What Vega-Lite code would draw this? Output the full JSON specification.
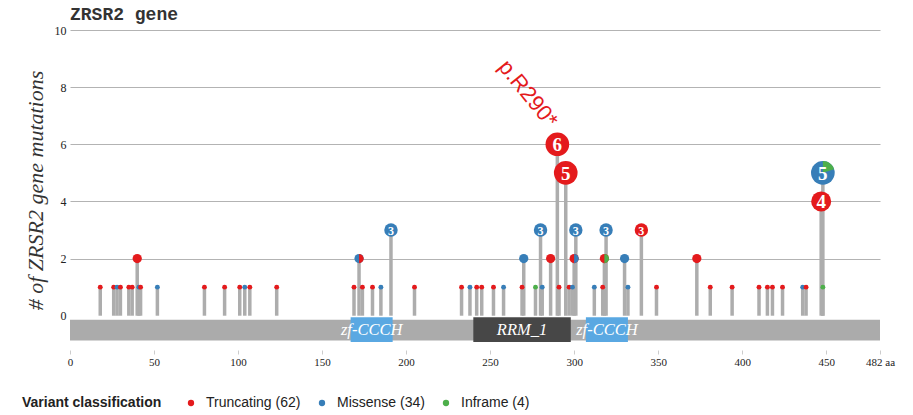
{
  "$schema": "https://vega.github.io/schema/vega-lite/v6.json",
  "width": 810,
  "height": 320,
  "autosize": "none",
  "padding": {"left": 70, "top": 30, "right": 33, "bottom": 65},
  "background": "white",
  "title": {"text": "ZRSR2 gene", "anchor": "start", "frame": "group", "font": "Liberation Mono", "fontSize": 18, "fontWeight": "bold", "color": "#333333", "offset": 0, "baseline": "bottom", "dy": 18},
  "config": {"view": {"stroke": null}},
  "datasets": {
    "mutations": [
      {"pos": 18, "count": 1, "type": "Truncating"},
      {"pos": 26, "count": 1, "type": "Truncating"},
      {"pos": 28, "count": 1, "type": "Missense"},
      {"pos": 30, "count": 1, "type": "Truncating"},
      {"pos": 35, "count": 1, "type": "Truncating"},
      {"pos": 37, "count": 1, "type": "Truncating"},
      {"pos": 40, "count": 2, "type": "Truncating"},
      {"pos": 41, "count": 1, "type": "Missense"},
      {"pos": 42, "count": 1, "type": "Truncating"},
      {"pos": 52, "count": 1, "type": "Missense"},
      {"pos": 80, "count": 1, "type": "Truncating"},
      {"pos": 92, "count": 1, "type": "Truncating"},
      {"pos": 101, "count": 1, "type": "Truncating"},
      {"pos": 104, "count": 1, "type": "Missense"},
      {"pos": 107, "count": 1, "type": "Truncating"},
      {"pos": 123, "count": 1, "type": "Truncating"},
      {"pos": 169, "count": 1, "type": "Truncating"},
      {"pos": 172, "count": 2, "type": "Missense", "second": "Truncating"},
      {"pos": 174, "count": 1, "type": "Truncating"},
      {"pos": 180, "count": 1, "type": "Truncating"},
      {"pos": 185, "count": 1, "type": "Missense"},
      {"pos": 191, "count": 3, "type": "Missense"},
      {"pos": 205, "count": 1, "type": "Truncating"},
      {"pos": 233, "count": 1, "type": "Truncating"},
      {"pos": 238, "count": 1, "type": "Missense"},
      {"pos": 242, "count": 1, "type": "Truncating"},
      {"pos": 245, "count": 1, "type": "Truncating"},
      {"pos": 252, "count": 1, "type": "Truncating"},
      {"pos": 258, "count": 1, "type": "Missense"},
      {"pos": 269, "count": 1, "type": "Truncating"},
      {"pos": 270, "count": 2, "type": "Missense"},
      {"pos": 277, "count": 1, "type": "Inframe"},
      {"pos": 280, "count": 3, "type": "Missense"},
      {"pos": 281, "count": 1, "type": "Missense"},
      {"pos": 286, "count": 2, "type": "Truncating"},
      {"pos": 290, "count": 6, "type": "Truncating", "label": "p.R290*"},
      {"pos": 291, "count": 1, "type": "Truncating"},
      {"pos": 295, "count": 5, "type": "Truncating"},
      {"pos": 297, "count": 1, "type": "Truncating"},
      {"pos": 299, "count": 1, "type": "Missense"},
      {"pos": 300, "count": 2, "type": "Truncating", "second": "Missense"},
      {"pos": 301, "count": 3, "type": "Missense"},
      {"pos": 312, "count": 1, "type": "Missense"},
      {"pos": 317, "count": 1, "type": "Truncating"},
      {"pos": 318, "count": 2, "type": "Truncating", "second": "Inframe"},
      {"pos": 319, "count": 3, "type": "Missense"},
      {"pos": 330, "count": 2, "type": "Missense"},
      {"pos": 332, "count": 1, "type": "Missense"},
      {"pos": 340, "count": 3, "type": "Truncating"},
      {"pos": 349, "count": 1, "type": "Truncating"},
      {"pos": 373, "count": 2, "type": "Truncating"},
      {"pos": 381, "count": 1, "type": "Truncating"},
      {"pos": 394, "count": 1, "type": "Truncating"},
      {"pos": 410, "count": 1, "type": "Truncating"},
      {"pos": 415, "count": 1, "type": "Truncating"},
      {"pos": 418, "count": 1, "type": "Truncating"},
      {"pos": 424, "count": 1, "type": "Truncating"},
      {"pos": 436, "count": 1, "type": "Missense"},
      {"pos": 438, "count": 1, "type": "Truncating"},
      {"pos": 447, "count": 4, "type": "Truncating"},
      {"pos": 448, "count": 5, "type": "Missense", "second": "Inframe"},
      {"pos": 448, "count": 1, "type": "Inframe"}
    ],
    "domains": [
      {"name": "backbone", "start": 0, "end": 482, "kind": "backbone"},
      {"name": "zf-CCCH", "start": 167, "end": 192, "kind": "pfam"},
      {"name": "RRM_1", "start": 240, "end": 298, "kind": "pfam"},
      {"name": "zf-CCCH", "start": 307, "end": 332, "kind": "pfam"}
    ]
  },
  "layer": [
    {
      "data": {"name": "mutations"},
      "transform": [{"calculate": "0", "as": "zero"}],
      "mark": {"type": "rule", "color": "#adadad", "strokeWidth": 3.5},
      "encoding": {
        "x": {"field": "pos", "type": "quantitative", "scale": {"domain": [0, 482], "nice": false},
          "axis": {"title": null, "values": [0, 50, 100, 150, 200, 250, 300, 350, 400, 450, 482], "labelExpr": "datum.value == 482 ? '482 aa' : datum.label", "domain": false, "grid": false, "tickColor": "#cccccc", "tickSize": 4, "labelFont": "Liberation Serif", "labelFontSize": 11, "labelColor": "#222222", "labelPadding": 2, "labelFlush": false, "labelOverlap": false}},
        "y": {"field": "zero", "type": "quantitative", "scale": {"domain": [-1.2, 10], "nice": false},
          "axis": {"title": "# of ZRSR2 gene mutations", "values": [0, 2, 4, 6, 8, 10], "grid": true, "gridColor": {"condition": {"test": "datum.value == 0", "value": "transparent"}, "value": "#b3b3b3"}, "domain": false, "ticks": false, "labelPadding": 4, "labelFont": "Liberation Serif", "labelFontSize": 12, "labelColor": "#222222", "titleFont": "Liberation Serif", "titleFontStyle": "italic", "titleFontWeight": "normal", "titleFontSize": 22, "titleColor": "#333333", "titlePadding": 7}},
        "y2": {"field": "count"}
      }
    },
    {
      "data": {"name": "domains"},
      "transform": [{"filter": "datum.kind == 'backbone'"}],
      "mark": {"type": "rect", "color": "#ababab"},
      "encoding": {
        "x": {"field": "start", "type": "quantitative"},
        "x2": {"field": "end"},
        "y": {"datum": -0.14, "type": "quantitative"},
        "y2": {"datum": -0.87}
      }
    },
    {
      "data": {"name": "domains"},
      "transform": [{"filter": "datum.kind == 'pfam'"}],
      "mark": {"type": "rect"},
      "encoding": {
        "x": {"field": "start", "type": "quantitative"},
        "x2": {"field": "end"},
        "y": {"datum": -0.05, "type": "quantitative"},
        "y2": {"datum": -0.92},
        "color": {"condition": {"test": "datum.name == 'RRM_1'", "value": "#474747"}, "value": "#5aa8e2"}
      }
    },
    {
      "data": {"name": "domains"},
      "transform": [{"filter": "datum.kind == 'pfam'"}, {"calculate": "(datum.start + datum.end) / 2", "as": "mid"}],
      "mark": {"type": "text", "color": "white", "font": "Liberation Serif", "fontStyle": "italic", "fontSize": 16.5, "baseline": "middle", "align": "center"},
      "encoding": {
        "x": {"field": "mid", "type": "quantitative"},
        "y": {"datum": -0.5, "type": "quantitative"},
        "text": {"field": "name"}
      }
    },
    {
      "data": {"name": "mutations"},
      "mark": {"type": "point", "filled": true, "opacity": 1, "shape": "circle", "strokeWidth": 0},
      "encoding": {
        "x": {"field": "pos", "type": "quantitative"},
        "y": {"field": "count", "type": "quantitative"},
        "size": {"field": "count", "type": "quantitative", "scale": {"type": "linear", "domain": [1, 2, 3, 4, 5], "range": [24, 85, 180, 400, 560], "clamp": true}, "legend": null},
        "color": {"field": "type", "type": "nominal", "scale": {"domain": ["Truncating", "Missense", "Inframe"], "range": ["#e41a1c", "#377eb8", "#4daf4a"]},
          "legend": {"title": "Variant classification", "orient": "none", "legendX": -48, "legendY": 366, "direction": "horizontal", "titleOrient": "left", "titlePadding": 22, "titleFont": "Liberation Sans", "titleFontSize": 14, "titleFontWeight": "bold", "titleColor": "#222222", "labelFont": "Liberation Sans", "labelFontSize": 14, "labelColor": "#222222", "symbolType": "circle", "symbolSize": 40, "symbolStrokeWidth": 0, "labelOffset": 8, "columnPadding": 14, "labelLimit": 300,
            "labelExpr": "datum.label == 'Truncating' ? 'Truncating (62)' : datum.label == 'Missense' ? 'Missense (34)' : 'Inframe (4)'"}}
      }
    },
    {
      "data": {"name": "mutations"},
      "transform": [{"filter": "datum.second != null && datum.count == 2"}],
      "mark": {"type": "point", "filled": true, "opacity": 1, "strokeWidth": 0, "shape": "M0,-1A1,1 0 0,1 0,1Z"},
      "encoding": {
        "x": {"field": "pos", "type": "quantitative"},
        "y": {"field": "count", "type": "quantitative"},
        "size": {"field": "count", "type": "quantitative", "scale": {"type": "linear", "domain": [1, 2, 3, 4, 5], "range": [24, 85, 180, 400, 560], "clamp": true}, "legend": null},
        "color": {"field": "second", "type": "nominal"}
      }
    },
    {
      "data": {"name": "mutations"},
      "transform": [{"filter": "datum.second != null && datum.count == 5"}],
      "mark": {"type": "point", "filled": true, "opacity": 1, "strokeWidth": 0, "shape": "M0,0L0,-1A1,1 0 0,1 0.951,-0.309Z"},
      "encoding": {
        "x": {"field": "pos", "type": "quantitative"},
        "y": {"field": "count", "type": "quantitative"},
        "size": {"field": "count", "type": "quantitative", "scale": {"type": "linear", "domain": [1, 2, 3, 4, 5], "range": [24, 85, 180, 400, 560], "clamp": true}, "legend": null},
        "color": {"field": "second", "type": "nominal"}
      }
    },
    {
      "data": {"name": "mutations"},
      "transform": [{"filter": "datum.count == 3"}],
      "mark": {"type": "text", "color": "white", "font": "Liberation Serif", "fontWeight": "bold", "fontSize": 12, "baseline": "middle", "align": "center", "dy": 1},
      "encoding": {
        "x": {"field": "pos", "type": "quantitative"},
        "y": {"field": "count", "type": "quantitative"},
        "text": {"field": "count"}
      }
    },
    {
      "data": {"name": "mutations"},
      "transform": [{"filter": "datum.count >= 4"}],
      "mark": {"type": "text", "color": "white", "font": "Liberation Serif", "fontWeight": "bold", "fontSize": 19, "baseline": "middle", "align": "center", "dy": 1},
      "encoding": {
        "x": {"field": "pos", "type": "quantitative"},
        "y": {"field": "count", "type": "quantitative"},
        "text": {"field": "count"}
      }
    },
    {
      "data": {"name": "mutations"},
      "transform": [{"filter": "datum.label != null"}],
      "mark": {"type": "text", "color": "#e41a1c", "font": "Liberation Sans", "fontSize": 22, "angle": 51, "align": "right", "baseline": "middle", "dx": -18, "dy": -9},
      "encoding": {
        "x": {"field": "pos", "type": "quantitative"},
        "y": {"field": "count", "type": "quantitative"},
        "text": {"field": "label"}
      }
    }
  ]
}
